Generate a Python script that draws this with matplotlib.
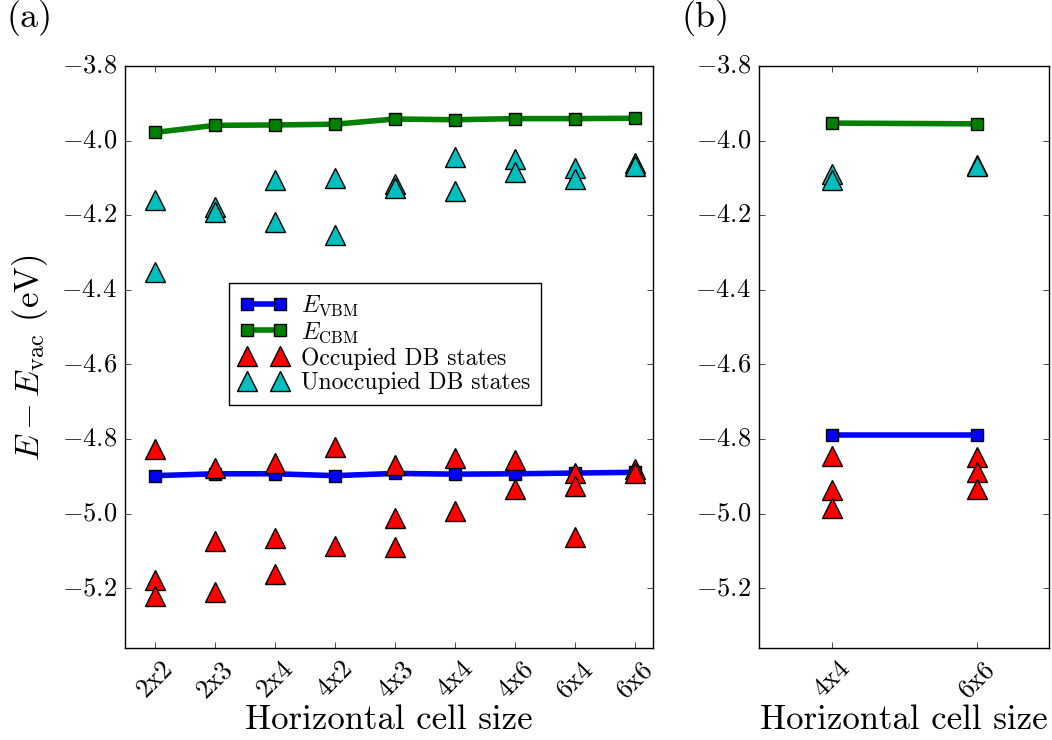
import matplotlib
matplotlib.use("Agg")
import matplotlib.pyplot as plt
import numpy as np

plt.style.use('classic')
plt.rcParams['font.family'] = 'serif'
plt.rcParams['font.serif'] = ['cmr10']
plt.rcParams['mathtext.fontset'] = 'cm'
plt.rcParams['axes.formatter.use_mathtext'] = True
plt.rcParams['axes.unicode_minus'] = True

# panel (a)
cells_a = ['2x2', '2x3', '2x4', '4x2', '4x3', '4x4', '4x6', '6x4', '6x6']
vbm_a = [-4.898, -4.893, -4.893, -4.898, -4.892, -4.894, -4.893, -4.891, -4.889]
cbm_a = [-3.978, -3.959, -3.958, -3.956, -3.942, -3.944, -3.941, -3.941, -3.940]
occ_a = [
    [-4.827, -5.178, -5.220],
    [-4.877, -5.072, -5.209],
    [-4.865, -5.066, -5.162],
    [-4.821, -5.087],
    [-4.870, -5.012, -5.090],
    [-4.851, -4.992],
    [-4.856, -4.933],
    [-4.890, -4.925, -5.062],
    [-4.879, -4.892],
]
unocc_a = [
    [-4.160, -4.352],
    [-4.179, -4.190],
    [-4.105, -4.219],
    [-4.099, -4.254],
    [-4.116, -4.127],
    [-4.045, -4.135],
    [-4.048, -4.083],
    [-4.073, -4.102],
    [-4.060, -4.068],
]

# panel (b)
cells_b = ['4x4', '6x6']
vbm_b = [-4.790, -4.790]
cbm_b = [-3.953, -3.955]
occ_b = [
    [-4.846, -4.936, -4.984],
    [-4.847, -4.888, -4.935],
]
unocc_b = [
    [-4.089, -4.106],
    [-4.064, -4.068],
]


def draw(ax, cells, vbm, cbm, occ, unocc):
    x = np.arange(len(cells))
    ax.plot(x, vbm, 'bs-', lw=4, ms=9, mec='k', mew=1, label=r'$E_{\rm VBM}$')
    ax.plot(x, cbm, 'gs-', lw=4, ms=9, mec='k', mew=1, label=r'$E_{\rm CBM}$')
    ox = [i for i in range(len(cells)) for v in occ[i]]
    oy = [v for i in range(len(cells)) for v in occ[i]]
    ux = [i for i in range(len(cells)) for v in unocc[i]]
    uy = [v for i in range(len(cells)) for v in unocc[i]]
    ax.plot(ox, oy, 'r^', ms=15, mec='k', mew=1, ls='none', label='Occupied DB states')
    ax.plot(ux, uy, 'c^', ms=15, mec='k', mew=1, ls='none', label='Unoccupied DB states')
    ax.set_xticks(x)
    ax.set_xticklabels(cells, rotation=45, fontsize=19)
    ax.set_ylim(-5.36, -3.8)
    ax.set_yticks(np.arange(-5.2, -3.79, 0.2))
    ax.tick_params(axis='y', labelsize=19, pad=6)
    ax.tick_params(axis='x', pad=6)
    ax.set_xlabel('Horizontal cell size', fontsize=25, labelpad=2)


fig = plt.figure(figsize=(10.52, 7.4), dpi=100)
fig.patch.set_facecolor('white')
ax1 = fig.add_axes([0.1188, 0.1243, 0.502, 0.7865])
ax2 = fig.add_axes([0.7215, 0.1243, 0.2757, 0.7865])

draw(ax1, cells_a, vbm_a, cbm_a, occ_a, unocc_a)
draw(ax2, cells_b, vbm_b, cbm_b, occ_b, unocc_b)
ax1.set_xlim(-0.5, 8.3)
ax2.set_xlim(-0.5, 1.5)
ax1.set_ylabel(r'$E - E_{\rm vac}$ (eV)', fontsize=25, labelpad=8)

ax1.legend(loc='upper left', bbox_to_anchor=(0.197, 0.627), numpoints=2,
           fontsize=17, handlelength=2.0, borderpad=0.45, labelspacing=0.1,
           handletextpad=0.6, borderaxespad=0, fancybox=False)

fig.text(0.006, 0.976, '(a)', fontsize=26, va='center')
fig.text(0.648, 0.976, '(b)', fontsize=26, va='center')

fig.savefig('out.png', dpi=100, facecolor='white')
